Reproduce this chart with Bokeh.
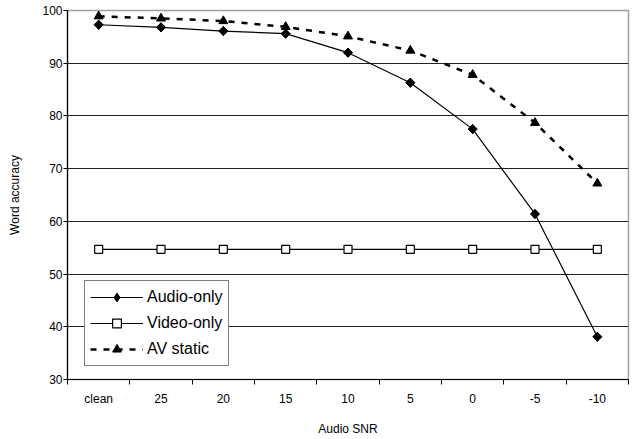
from bokeh.plotting import figure
from bokeh.models import FixedTicker, Range1d, Legend, LegendItem, ColumnDataSource
from bokeh.embed import file_html
from bokeh.resources import INLINE
import numpy as np

categories = ["clean", "25", "20", "15", "10", "5", "0", "-5", "-10"]
audio_only = [97.3, 96.8, 96.1, 95.6, 92.0, 86.3, 77.5, 61.4, 38.1]
video_only = [54.7, 54.7, 54.7, 54.7, 54.7, 54.7, 54.7, 54.7, 54.7]
av_static = [98.9, 98.5, 98.0, 96.9, 95.1, 92.4, 87.8, 78.7, 67.2]
y_ticks = [30, 40, 50, 60, 70, 80, 90, 100]

FONT = "Liberation Sans"
xc = [i + 0.5 for i in range(len(categories))]

src = ColumnDataSource(dict(x=xc, audio=audio_only, video=video_only, av=av_static))

p = figure(width=635, height=439, output_backend="svg", toolbar_location=None,
           x_range=Range1d(0, len(categories)), y_range=Range1d(30, 100),
           min_border_left=67, min_border_right=7, min_border_top=10, min_border_bottom=60)

p.background_fill_color = "white"
p.border_fill_color = "white"
p.outline_line_color = "#a0a0a0"
p.outline_line_width = 1.5

# axes
p.xaxis.ticker = FixedTicker(ticks=xc, minor_ticks=list(range(len(categories) + 1)))
p.xaxis.major_label_overrides = {x: c for x, c in zip(xc, categories)}
p.xaxis.major_tick_line_color = None
p.xaxis.major_tick_out = 0
p.xaxis.major_tick_in = 0
p.xaxis.minor_tick_line_color = "black"
p.xaxis.minor_tick_out = 5
p.xaxis.minor_tick_in = 0
p.xaxis.axis_line_color = "black"
p.xaxis.axis_line_width = 1.2
p.xaxis.major_label_standoff = 7
p.xaxis.axis_label = "Audio SNR"
p.xaxis.axis_label_standoff = 13

p.yaxis.ticker = FixedTicker(ticks=y_ticks, minor_ticks=[])
p.yaxis.major_tick_out = 4
p.yaxis.major_tick_in = 0
p.yaxis.major_tick_line_color = "black"
p.yaxis.axis_line_color = "black"
p.yaxis.axis_line_width = 1.2
p.yaxis.major_label_standoff = 1
p.yaxis.axis_label = "Word accuracy"
p.yaxis.axis_label_standoff = 17

for ax in (p.xaxis[0], p.yaxis[0]):
    ax.major_label_text_font = FONT
    ax.major_label_text_font_size = "12px"
    ax.major_label_text_color = "black"
    ax.major_label_text_line_height = 1.0
    ax.axis_label_text_font = FONT
    ax.axis_label_text_font_size = "12px"
    ax.axis_label_text_font_style = "normal"
    ax.axis_label_text_color = "black"
    ax.axis_label_text_line_height = 1.0

p.xgrid.grid_line_color = None
p.ygrid.grid_line_color = "#222222"
p.ygrid.grid_line_width = 1

# series
l1 = p.line("x", "audio", source=src, line_color="black", line_width=1.2)
m1_leg = p.scatter("x", "audio", source=src, marker="diamond", size=9,
                   fill_color="black", line_color="black")
m1 = p.scatter("x", "audio", source=src, marker="square", angle=np.pi / 4, size=6.5,
               fill_color="black", line_color="black")
l2 = p.line("x", "video", source=src, line_color="black", line_width=1.2)
m2 = p.scatter("x", "video", source=src, marker="square", size=8, fill_color="white",
               line_color="black", line_width=1.2)
l3 = p.line("x", "av", source=src, line_color="black", line_width=2.5, line_dash="6 7")
m3 = p.scatter("x", "av", source=src, marker="triangle", size=9, fill_color="black",
               line_color="black")

legend = Legend(items=[
    LegendItem(label="Audio-only", renderers=[l1, m1_leg]),
    LegendItem(label="Video-only", renderers=[l2, m2]),
    LegendItem(label="AV static", renderers=[l3, m3]),
], location=(17, 13))
legend.label_text_font = FONT
legend.label_text_font_size = "16px"
legend.label_text_color = "black"
legend.border_line_color = "black"
legend.border_line_width = 1
legend.background_fill_alpha = 1
legend.glyph_width = 53
legend.glyph_height = 22
legend.label_height = 22
legend.label_standoff = 4
legend.spacing = 4
legend.padding = 5
legend.margin = 0
p.add_layout(legend)

open("out.html", "w").write(file_html(p, INLINE))
